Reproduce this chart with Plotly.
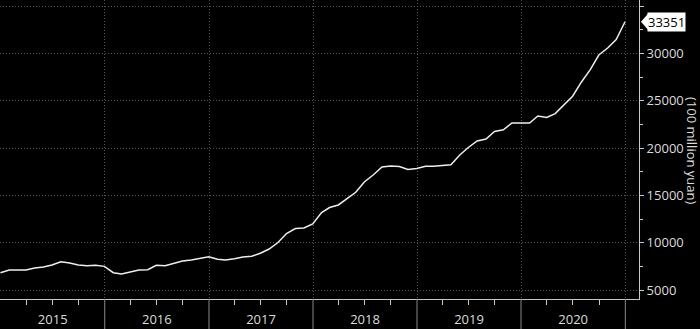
import plotly.graph_objects as go
import pandas as pd

# Monthly values (100 million yuan), Dec 2014 .. Dec 2020
start_month = "2014-12-31"
values = [
    6830,
    7110, 7110, 7110, 7320, 7430, 7640, 7990, 7850, 7640, 7570, 7610, 7500,   # 2015
    6830, 6690, 6870, 7110, 7150, 7610, 7570, 7820, 8060, 8170, 8350, 8520,   # 2016
    8250, 8170, 8310, 8490, 8560, 8880, 9330, 10020, 10970, 11500, 11550, 11980,  # 2017
    13190, 13720, 13990, 14670, 15330, 16420, 17150, 18000, 18100, 18050, 17740, 17840,  # 2018
    18070, 18080, 18180, 18240, 19270, 20060, 20750, 20960, 21750, 21930, 22650, 22650,  # 2019
    22650, 23390, 23230, 23650, 24600, 25480, 26990, 28300, 29840, 30580, 31480, 33351,  # 2020
]
dates = pd.date_range(start_month, periods=len(values), freq="ME")
year_bounds = ["2016-01-01", "2017-01-01", "2018-01-01", "2019-01-01", "2020-01-01", "2021-01-01"]
last_label = "33351"
y_title = "(100 million yuan)"

FONT = "Open Sans"
TXT = "#dcdcdc"
GRID = "#555555"
AXIS = "#c8c8c8"
GRIDDASH = "1px,2px"
FS = 13

fig = go.Figure()
fig.add_trace(go.Scatter(x=dates, y=values, mode="lines",
                         line=dict(color="#eeeeee", width=1.5),
                         hoverinfo="skip", showlegend=False))

fig.update_layout(
    width=700, height=329,
    margin=dict(l=0, r=61, t=0, b=30),
    paper_bgcolor="black", plot_bgcolor="black",
    font=dict(family=FONT, size=FS, color=TXT),
    xaxis=dict(
        type="date",
        range=["2014-12-29 12:00", "2021-02-18"],
        tick0="2015-01-01", dtick="M12",
        ticklabelmode="period",
        tickformat="%Y",
        ticks="outside", ticklen=8, tickcolor="rgba(0,0,0,0)",
        showgrid=True, gridcolor=GRID, griddash=GRIDDASH, gridwidth=1,
        showline=True, linecolor=AXIS, linewidth=1,
        zeroline=False,
        minor=dict(dtick="M3", tick0="2015-01-01", ticks="outside", ticklen=5,
                   tickcolor=AXIS, showgrid=False),
        tickfont=dict(size=FS, color=TXT),
        fixedrange=True,
    ),
    yaxis=dict(
        side="right",
        range=[4049, 35653],
        tick0=5000, dtick=5000, tickformat="d",
        ticks="outside", ticklen=4, tickcolor=AXIS,
        showgrid=True, gridcolor=GRID, griddash=GRIDDASH, gridwidth=1,
        showline=True, linecolor=AXIS, linewidth=1,
        zeroline=False,
        minor=dict(dtick=2500, ticks="outside", ticklen=3, tickcolor=AXIS, showgrid=False),
        tickfont=dict(size=FS, color=TXT),
        fixedrange=True,
    ),
)

# year separator lines below the x axis
for d in year_bounds:
    fig.add_shape(type="line", xref="x", yref="paper", x0=d, x1=d, y0=0, y1=-0.11,
                  line=dict(color="#8a8a8a", width=1))

# last value marker: arrow + box
fig.add_shape(type="path", xref="paper", yref="y",
              xsizemode="pixel", ysizemode="pixel", xanchor=1, yanchor=values[-1],
              path="M 2 0 L 9 8 L 9 -8 Z", fillcolor="white", line=dict(width=0))
fig.add_annotation(xref="paper", yref="y", x=1, y=values[-1], xshift=8,
                   xanchor="left", yanchor="middle", text=last_label, showarrow=False,
                   bgcolor="white", font=dict(color="black", size=FS, family=FONT),
                   borderpad=0)

# axis title (rotated clockwise)
fig.add_annotation(xref="paper", yref="paper", x=1, y=0.495, xshift=53,
                   xanchor="center", yanchor="middle", text=y_title, textangle=90,
                   showarrow=False, font=dict(color=TXT, size=13, family=FONT))

fig.write_html("out.html")
